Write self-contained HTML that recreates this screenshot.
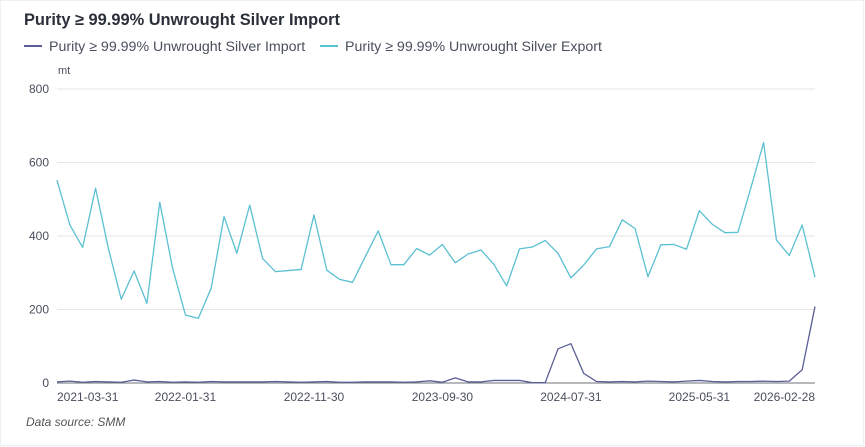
<!DOCTYPE html>
<html><head><meta charset="utf-8"><style>
body{margin:0;width:865px;height:447px;background:#fff;font-family:"Liberation Sans","Noto Sans CJK SC",sans-serif;overflow:hidden}
</style></head><body>
<svg id="c" width="865" height="447" style="position:absolute;left:0;top:0">
<rect x="0.5" y="0.5" width="863" height="445" fill="none" stroke="#eef0f4"/>
<text x="24" y="25" font-size="16.4" font-weight="bold" fill="#2b2f3a">Purity ≥ 99.99% Unwrought Silver Import</text>
<g><line x1="24" y1="46" x2="42" y2="46" stroke="#5b5f97" stroke-width="2"/><text x="49" y="51" font-size="14.2" fill="#4a4f5c">Purity ≥ 99.99% Unwrought Silver Import</text></g>
<g><line x1="320" y1="46" x2="338" y2="46" stroke="#5bc0d1" stroke-width="2"/><text x="345" y="51" font-size="14.2" fill="#4a4f5c">Purity ≥ 99.99% Unwrought Silver Export</text></g>
<text x="58" y="74" font-size="11" fill="#4a4f5c">mt</text>
<text x="26" y="426" font-size="12" font-style="italic" fill="#555">Data source:  SMM</text>
<g id="g"></g>
</svg>
<script>
const categories=[];for(let i=0;i<60;i++){const m=(2+i)%12+1,y=2021+Math.floor((2+i)/12);categories.push(y+'-'+String(m).padStart(2,'0'));}
const exportValues=[552,430,369,530,366,228,305,217,492,312,185,176,258,453,353,484,339,303,306,309,457,307,282,274,344,414,322,322,366,348,377,327,351,362,323,264,365,370,388,353,286,321,365,371,444,420,289,376,377,364,469,432,409,410,530,654,389,347,430,288];
const importValues=[3,5,2,4,3,2,8,3,4,2,3,2,4,3,3,3,3,4,3,2,3,4,2,2,3,3,3,2,3,6,2,14,3,3,7,7,7,1,1,93,107,26,4,3,4,3,5,4,3,5,7,4,3,4,4,5,4,5,36,208];
const yTicks=[0,200,400,600,800];
const xLabels=['2021-03-31','2022-01-31','2022-11-30','2023-09-30','2024-07-31','2025-05-31','2026-02-28'];
const xLabelIdx=[0,10,20,30,40,50,59];
const X0=57,X1=815,Y0=383,Y1=89;
const xs=i=>X0+(X1-X0)*i/(categories.length-1);
const ys=v=>Y0-(Y0-Y1)*v/800;
const g=document.getElementById('g');const NS='http://www.w3.org/2000/svg';
function mk(t,a){const e=document.createElementNS(NS,t);for(const k in a)e.setAttribute(k,a[k]);g.appendChild(e);return e;}
yTicks.forEach(v=>{
 const l=mk('line',{x1:X0,x2:X1,y1:ys(v),y2:ys(v),stroke:v===0?'#6e7079':'#e6e6e6'});
 
 
 const t=mk('text',{x:49,y:ys(v)+4,'font-size':12,'text-anchor':'end',fill:'#4a4f5c'});t.textContent=v;
 
 
});
xLabels.forEach((s,k)=>{
 const i=xLabelIdx[k];const anchor=k===0?'start':(k===xLabels.length-1?'end':'middle');
 const t=mk('text',{x:k===0?X0:xs(i),y:401,'font-size':12,'text-anchor':anchor,fill:'#4a4f5c'});t.textContent=s;
 
 
});
function line(vals,color,name){
 const p=mk('polyline',{points:vals.map((v,i)=>xs(i)+','+ys(v)).join(' '),fill:'none',stroke:color,'stroke-width':1.3,'stroke-linejoin':'round'});
 
 
}
line(exportValues,'#5bc0d1','export-line');
line(importValues,'#5b5f97','import-line');
</script>
</body></html>
